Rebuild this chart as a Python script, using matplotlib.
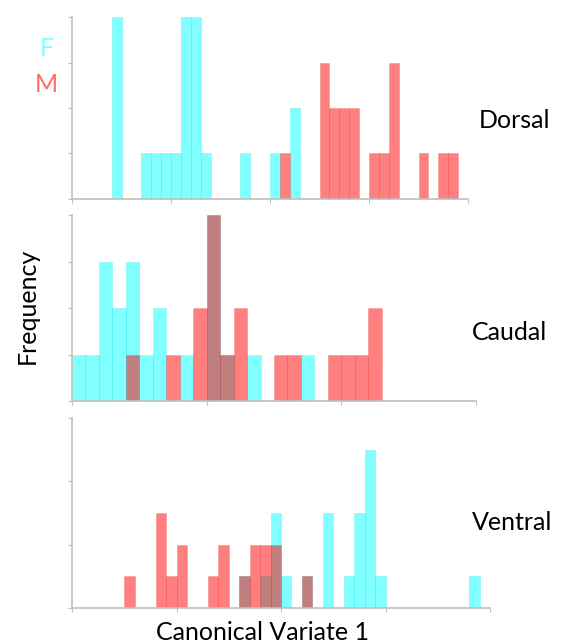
import matplotlib
matplotlib.use("Agg")
import matplotlib.pyplot as plt

# bin index -> count, per region and sex (bins are unit width on Canonical Variate 1)
dorsal_f_bins = [4, 7, 8, 9, 10, 11, 12, 13, 17, 20, 22]
dorsal_f_counts = [4, 1, 1, 1, 1, 4, 4, 1, 1, 1, 2]
dorsal_m_bins = [21, 25, 26, 27, 28, 30, 31, 32, 35, 37, 38]
dorsal_m_counts = [1, 3, 2, 2, 2, 1, 1, 3, 1, 1, 1]

caudal_f_bins = [0, 1, 2, 3, 4, 5, 6, 8, 10, 11, 13, 17]
caudal_f_counts = [1, 1, 3, 2, 3, 1, 2, 1, 4, 1, 1, 1]
caudal_m_bins = [4, 7, 9, 10, 11, 12, 15, 16, 19, 20, 21, 22]
caudal_m_counts = [1, 1, 2, 4, 1, 2, 1, 1, 1, 1, 1, 2]

ventral_f_bins = [16, 18, 19, 20, 22, 24, 26, 27, 28, 29, 38]
ventral_f_counts = [1, 1, 3, 1, 1, 3, 1, 3, 5, 1, 1]
ventral_m_bins = [5, 8, 9, 10, 13, 14, 16, 17, 18, 19, 22]
ventral_m_counts = [1, 3, 1, 2, 1, 2, 1, 2, 2, 2, 1]

regions = ["Dorsal", "Caudal", "Ventral"]

plt.rcParams['font.family'] = ['Lato', 'DejaVu Sans']

W, H = 561, 644
fig = plt.figure(figsize=(W / 100, H / 100), dpi=100)

# axes boxes in pixels: left, top, right, bottom
boxes = [(72, 17, 468, 199), (72, 215, 476, 401), (72, 418, 490, 608)]
xmax = [40, 30, 40]
ymax = [4, 4, 6]
ystep = [1, 1, 2]
data = [
    (dorsal_f_bins, dorsal_f_counts, dorsal_m_bins, dorsal_m_counts),
    (caudal_f_bins, caudal_f_counts, caudal_m_bins, caudal_m_counts),
    (ventral_f_bins, ventral_f_counts, ventral_m_bins, ventral_m_counts),
]
label_pos = [(479, 121), (472, 333), (472, 522)]

cyan = (0, 1, 1, 0.5)
red = (1, 0, 0, 0.5)
cyan_edge = (0, 0.85, 0.85, 0.25)
red_edge = (0.85, 0, 0, 0.2)
grey = "#bfbfbf"

for i in range(3):
    l, t, r, b = boxes[i]
    ax = fig.add_axes([l / W, 1 - b / H, (r - l) / W, (b - t) / H])
    fb, fc, mb, mc = data[i]
    ax.bar(fb, fc, width=1, align='edge', color=cyan, edgecolor=cyan_edge, linewidth=0.5)
    ax.bar(mb, mc, width=1, align='edge', color=red, edgecolor=red_edge, linewidth=0.5)
    ax.set_xlim(0, xmax[i])
    ax.set_ylim(0, ymax[i])
    ax.set_xticks(range(0, xmax[i] + 1, 10))
    ax.set_yticks(range(0, ymax[i] + 1, ystep[i]))
    ax.set_xticklabels([])
    ax.set_yticklabels([])
    ax.tick_params(length=3, width=0.8, color=grey)
    for s in ["top", "right"]:
        ax.spines[s].set_visible(False)
    for s in ["left", "bottom"]:
        ax.spines[s].set_color(grey)
        ax.spines[s].set_linewidth(1.2)
    lx, ly = label_pos[i]
    fig.text(lx / W, 1 - ly / H, regions[i], fontsize=18, ha='left', va='center')

fig.text(47 / W, 1 - 48 / H, "F", color=(0.5, 1, 1), fontsize=18, ha='center', va='center')
fig.text(46 / W, 1 - 85 / H, "M", color=(1, 0.42, 0.42), fontsize=18, ha='center', va='center')
fig.text(27 / W, 1 - 306 / H, "Frequency", fontsize=18, rotation=90, ha='center', va='center')
fig.text(262 / W, 1 - 633 / H, "Canonical Variate 1", fontsize=18, ha='center', va='center')

fig.savefig("out.png", dpi=100)
